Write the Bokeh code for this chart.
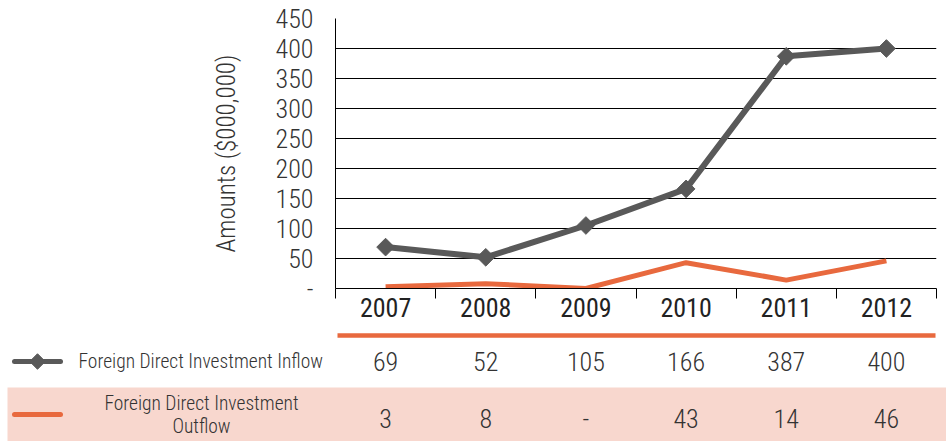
import numpy as np
from bokeh.plotting import figure
from bokeh.models import Range1d, FixedTicker, ColumnDataSource
from bokeh.layouts import column
from bokeh.core.properties import value
from bokeh.embed import file_html
from bokeh.resources import INLINE

# ---------------- data ----------------
years = ["2007", "2008", "2009", "2010", "2011", "2012"]
inflow = [69, 52, 105, 166, 387, 400]
outflow = [3, 8, 0, 43, 14, 46]
inflow_labels = ["69", "52", "105", "166", "387", "400"]
outflow_labels = ["3", "8", "-", "43", "14", "46"]
series_names = ["Foreign Direct Investment Inflow", "Foreign Direct Investment\nOutflow"]
y_ticks = [0, 50, 100, 150, 200, 250, 300, 350, 400, 450]
y_tick_labels = ["-", "50", "100", "150", "200", "250", "300", "350", "400", "450"]

FONT = "'Roboto Condensed Light', 'Roboto Condensed', 'Liberation Sans Narrow', 'DejaVu Sans Condensed', sans-serif"
FONT_REG = "'Roboto Condensed', 'Liberation Sans Narrow', sans-serif"
GRAY = "#595959"
ORANGE = "#E8693E"
PINK = "#F8D7CE"
TXT = "#333333"

n = len(years)
xc = [i + 0.5 for i in range(n)]

# ---------------- chart ----------------
W = 946
LEFT = 335
FRAME_W = 601
TOP = 18
FRAME_H = 270
BOTTOM = 44
HA = TOP + FRAME_H + BOTTOM

pA = figure(width=W, height=HA, output_backend="svg", toolbar_location=None,
            x_range=Range1d(0, n), y_range=Range1d(0, 450),
            min_border_left=LEFT, min_border_right=W - LEFT - FRAME_W,
            min_border_top=TOP, min_border_bottom=BOTTOM)
pA.frame_align = False
pA.outline_line_color = None
pA.xgrid.visible = False
pA.ygrid.ticker = FixedTicker(ticks=y_ticks)
pA.ygrid.grid_line_color = "#000000"
pA.ygrid.grid_line_width = 1

ya = pA.yaxis[0]
ya.ticker = FixedTicker(ticks=y_ticks)
ya.major_label_overrides = {t: l for t, l in zip(y_ticks, y_tick_labels)}
ya.axis_line_color = "#000000"
ya.major_tick_out = 0
ya.major_tick_in = 0
ya.minor_tick_line_color = None
ya.major_label_text_font = FONT
ya.major_label_text_font_size = "26px"
ya.major_label_text_color = TXT
ya.major_label_standoff = 22
ya.axis_label = "Amounts ($000,000)"
ya.axis_label_text_font = FONT
ya.axis_label_text_font_size = "25px"
ya.axis_label_text_font_style = "normal"
ya.axis_label_text_color = TXT
ya.axis_label_standoff = 32

xa = pA.xaxis[0]
xa.ticker = FixedTicker(ticks=xc, minor_ticks=list(range(n + 1)))
xa.major_label_overrides = {x: y for x, y in zip(xc, years)}
xa.axis_line_color = "#000000"
xa.major_tick_line_color = None
xa.major_tick_out = 0
xa.major_tick_in = 0
xa.minor_tick_line_color = "#000000"
xa.minor_tick_out = 10
xa.minor_tick_in = 0
xa.major_label_standoff = -1
xa.major_label_text_font = FONT_REG
xa.major_label_text_font_size = "26px"
xa.major_label_text_font_style = "normal"
xa.major_label_text_color = "#222222"

pA.line(xc, outflow, line_width=5, line_color=ORANGE, line_join="round")
pA.line(xc, inflow, line_width=6, line_color=GRAY, line_join="round")
pA.scatter(xc, inflow, marker="square", angle=np.pi / 4, size=12.5, color=GRAY)

# ---------------- table ----------------
HB = 441 - HA
PXU = FRAME_W / n          # px per category unit
ROW = 57.0                 # px per table row
row0_screen = 361


def bx(px):
    return (px - LEFT) / PXU


def by(py):
    return (py - row0_screen) / ROW


pB = figure(width=W, height=HB, output_backend="svg", toolbar_location=None,
            x_range=Range1d(bx(0), bx(W)), y_range=Range1d(by(HA + HB), by(HA)),
            min_border=0)
pB.frame_align = False
pB.outline_line_color = None
pB.axis.visible = False
pB.grid.visible = False

# pink band for outflow row
pB.quad(left=bx(7), right=bx(960), top=by(387), bottom=by(460), color=PINK, line_color=None)
# orange separator
pB.line([bx(337), bx(935)], [by(335), by(335)], line_width=4.5, line_color=ORANGE)

# legend keys
pB.line([bx(14), bx(60)], [0, 0], line_width=5, line_color=GRAY, line_cap="round")
pB.scatter([bx(37)], [0], marker="square", angle=np.pi / 4, size=11, color=GRAY)
pB.line([bx(14), bx(60)], [by(414), by(414)], line_width=5, line_color=ORANGE, line_cap="round")

pB.text([bx(78)], [0], text=[series_names[0]], text_font=value(FONT), text_font_size="19.5px",
        text_color=TXT, text_align="left", text_baseline="middle")
pB.text([bx(201)], [by(414)], text=[series_names[1]], text_font=value(FONT), text_font_size="19.5px",
        text_color=TXT, text_align="center", text_baseline="middle", text_line_height=1.0)

src = ColumnDataSource(dict(x=xc, r0=[0] * n, r1=[1] * n, l0=inflow_labels, l1=outflow_labels))
pB.text("x", "r0", text="l0", source=src, text_font=value(FONT), text_font_size="26px",
        text_color=TXT, text_align="center", text_baseline="middle")
pB.text("x", "r1", text="l1", source=src, text_font=value(FONT), text_font_size="26px",
        text_color=TXT, text_align="center", text_baseline="middle")

layout = column(pA, pB, spacing=0)
open("out.html", "w").write(file_html(layout, INLINE))
